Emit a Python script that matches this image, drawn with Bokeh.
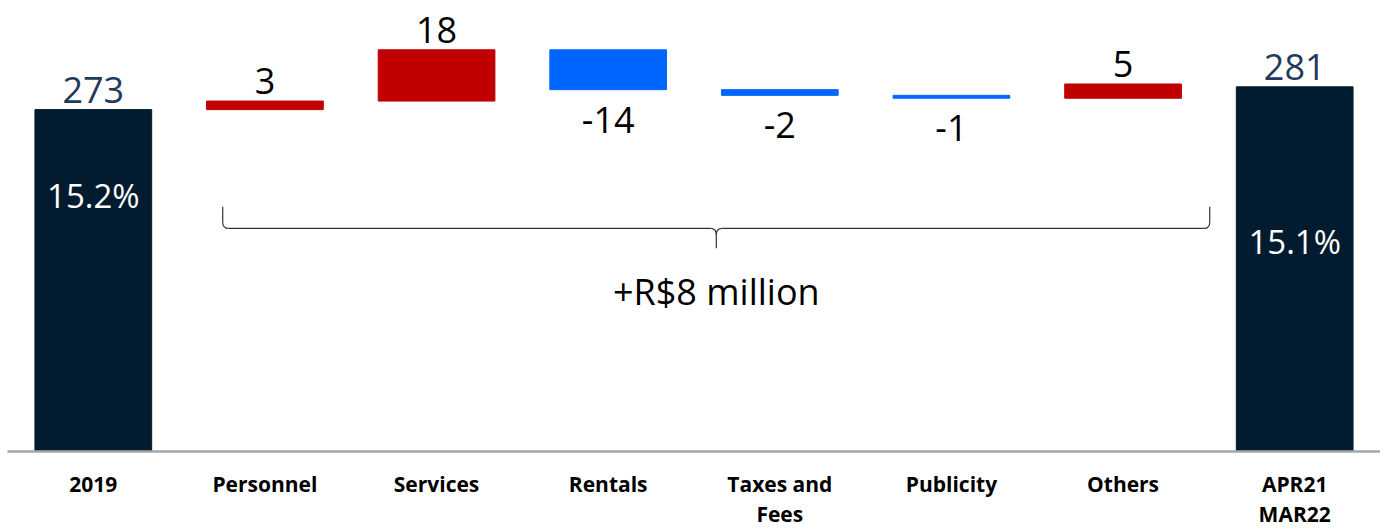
from bokeh.plotting import figure
from bokeh.models import Range1d, FixedTicker, ColumnDataSource
from bokeh.core.properties import value
from bokeh.embed import file_html
from bokeh.resources import INLINE

# ---- data ----
categories = ["2019", "Personnel", "Services", "Rentals", "Taxes and\nFees",
              "Publicity", "Others", "APR21\nMAR22"]
start_total = 273
changes = [3, 18, -14, -2, -1, 5]
end_total = 281
pct_labels = ["15.2%", "15.1%"]
pct_y = [243.0, 226.7]
bracket_text = "+R$8 million"

FONT = "Open Sans"
NAVY = "#021B2F"
RED = "#C00000"
BLUE = "#0066FF"
Y0 = 153

xs, bottoms, tops, colors = [], [], [], []
xs.append(0); bottoms.append(Y0); tops.append(start_total); colors.append(NAVY)
cum = start_total
for i, c in enumerate(changes):
    b, t = (cum, cum + c) if c >= 0 else (cum + c, cum)
    xs.append(i + 1); bottoms.append(b); tops.append(t)
    colors.append(RED if c >= 0 else BLUE)
    cum += c
xs.append(7); bottoms.append(Y0); tops.append(end_total); colors.append(NAVY)

src = ColumnDataSource(dict(x=xs, bottom=bottoms, top=tops, color=colors))

p = figure(width=1380, height=531, output_backend="svg", toolbar_location=None,
           x_range=Range1d(-0.5, 7.5), y_range=Range1d(Y0, 311.3),
           min_border_left=7, min_border_right=0, min_border_top=0,
           min_border_bottom=74)
p.outline_line_color = None
p.grid.visible = False
p.yaxis.visible = False
p.background_fill_color = "white"

p.vbar(x="x", bottom="bottom", top="top", width=0.68, color="color", source=src)

# value labels
pos_x, pos_y, pos_t, pos_c = [], [], [], []
neg_x, neg_y, neg_t = [], [], []
pos_x.append(0); pos_y.append(start_total); pos_t.append(str(start_total)); pos_c.append("#1F3A5C")
for i, c in enumerate(changes):
    if c >= 0:
        pos_x.append(i + 1); pos_y.append(tops[i + 1]); pos_t.append(str(c)); pos_c.append("#000000")
    else:
        neg_x.append(i + 1); neg_y.append(bottoms[i + 1]); neg_t.append(str(c))
pos_x.append(7); pos_y.append(end_total); pos_t.append(str(end_total)); pos_c.append("#1F3A5C")

p.text(x=pos_x, y=pos_y, text=pos_t, text_color=pos_c, text_align="center",
       text_baseline="bottom", y_offset=-7, text_font=value(FONT), text_font_size="36px")
p.text(x=neg_x, y=neg_y, text=neg_t, text_color="#000000", text_align="center",
       text_baseline="top", y_offset=17, text_font=value(FONT), text_font_size="36px")

# percentages inside total bars
p.text(x=[0, 7], y=pct_y, text=pct_labels, text_color="white", text_align="center",
       text_baseline="middle", text_font=value(FONT), text_font_size="33px")

# brace annotation
xl, xr, xc = 0.754, 6.505, 3.63
ytop, ymid, ytip = 238.9, 231.3, 224.3
dx, dy = 0.035, 2.2
lc = "#333333"
p.segment(x0=[xl, xr, xl + dx, xc + dx], y0=[ytop, ytop, ymid, ymid],
          x1=[xl, xr, xc - dx, xr - dx], y1=[ymid + dy, ymid + dy, ymid, ymid],
          line_color=lc, line_width=1.2)
p.quadratic(x0=[xl, xr, xc - dx, xc + dx], y0=[ymid + dy, ymid + dy, ymid, ymid],
            x1=[xl + dx, xr - dx, xc, xc], y1=[ymid, ymid, ymid - dy, ymid - dy],
            cx=[xl, xr, xc, xc], cy=[ymid, ymid, ymid, ymid],
            line_color=lc, line_width=1.2)
p.segment(x0=[xc], y0=[ymid - dy], x1=[xc], y1=[ytip], line_color=lc, line_width=1.2)
p.text(x=[xc], y=[209.3], text=[bracket_text], text_align="center", text_baseline="middle",
       text_color="#000000", text_font=value(FONT), text_font_size="36px")

# x axis
p.xaxis.ticker = FixedTicker(ticks=list(range(len(categories))))
p.xaxis.major_label_overrides = {i: c for i, c in enumerate(categories)}
p.xaxis.major_tick_line_color = None
p.xaxis.minor_tick_line_color = None
p.xaxis.axis_line_color = "#A6A6A6"
p.xaxis.axis_line_width = 2.5
p.xaxis.major_label_standoff = 12
p.xaxis.major_label_text_font = FONT
p.xaxis.major_label_text_font_style = "bold"
p.xaxis.major_label_text_font_size = "21px"
p.xaxis.major_label_text_color = "#000000"
p.xaxis.major_label_text_line_height = 1.1

open("out.html", "w").write(file_html(p, INLINE))
